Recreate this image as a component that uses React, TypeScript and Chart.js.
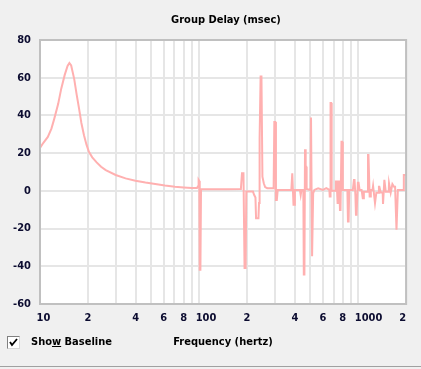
import React, { useEffect, useRef } from 'react';
import { Chart, registerables } from 'chart.js';

Chart.register(...registerables);

const chartTitle = 'Group Delay (msec)';
const xAxisTitle = 'Frequency (hertz)';

const frequencyHz = [
  10, 10.5, 11.2, 11.8, 12.3, 13.0, 13.6, 14.3, 14.9, 15.3, 15.7, 16.4, 17.0, 17.6, 18.2, 18.9, 19.6, 20.3, 21.3, 22.7, 24.2, 25.9, 29.9, 34.5, 39.8, 46, 53, 61, 70.5, 80, 90, 97,
  98.5, 99.3, 100.3, 100.9, 101.9, 102.8, 150,
  183, 186, 190, 193, 196, 198, 218, 222, 226, 228, 236, 238, 240, 243.5, 246.5, 250, 255, 260, 268,
  294, 297, 301, 304, 308, 312,
  380, 385, 389, 392, 396, 400,
  430, 435, 440, 452, 455, 459, 463, 466, 469, 471, 474, 495, 502, 505, 509, 513, 517, 521, 530, 560, 600, 630,
  659, 662, 666, 670, 676, 681, 718, 724, 732, 742, 747, 752, 758, 768, 774, 785, 792, 800, 855,
  862, 870, 878, 925,
  940, 948, 960, 968, 976, 995, 1005, 1020, 1050,
  1068, 1076, 1085, 1140, 1152, 1160, 1180, 1188, 1200, 1230, 1240, 1248, 1275, 1283, 1300, 1345, 1350, 1358, 1385, 1425,
  1432, 1440, 1460, 1468, 1490, 1555, 1562, 1570, 1600, 1640, 1650, 1680, 1705, 1740, 1750, 1775, 1925, 1935, 2000,
];

const groupDelayMs = [
  22.8, 25.5, 28.6, 33, 38.3, 46, 54.2, 61.5, 66.3, 67.8, 66.5, 59.4, 51, 43.6, 36, 29.5, 24.5, 20.7, 17.8, 15.1, 12.8, 11.0, 8.4, 6.6, 5.4, 4.4, 3.6, 2.8, 2.2, 1.8, 1.5, 1.5,
  2.5, 5.8, 5.2, -41.8, -41.8, 0.8, 0.8,
  1.0, 9.3, 9.3, -40.9, -40.9, -0.4, -0.4, -2.2, -3.5, -14.5, -14.5, -6.4, 27.8, 60.7, 60.7, 7.5, 4, 2, 1.4,
  1.4, 36.5, 36.5, -4.8, -4.8, 0.5,
  0.5, 9.3, 9.3, -7.4, -7.4, 0.5,
  0.5, -2.2, 0.5, 0.5, -44.4, -44.4, 22, 22, 12.8, 12.8, 1, 0.5, 1.4, 38.9, 38.9, -34.7, -34.7, -1.3, 0.5, 1.4, 0.5, 1.4,
  0.5, -3, -3, 46.6, 46.6, 0.1, 0.1, 4.9, 4.9, -6.5, -6.5, 4.9, 4.9, -10.1, -10.1, 26, 26, 0.5, 0.5,
  -16.3, -16.3, 0.5, 0.5,
  5.8, 5.8, -2.2, -12.7, -12.7, 4.3, 4.3, 0.5, 0.5,
  -3.9, -3.9, -0.5, -0.5, 19, 19, -3, -3, 0.5, 0.5, 2.6, 2.6, -6.5, -6.5, -1, -1, 2.2, 2.2, -0.9, -0.9,
  -6.9, -6.9, 5.8, 5.8, -0.5, -0.5, 4, 4, -0.9, 3.6, 3.6, 2.2, 2.2, -20.6, -20.6, 0.5, 0.5, 8.4, 8.4,
];

const xTickValues = [10, 20, 30, 40, 50, 60, 70, 80, 90, 100, 200, 300, 400, 500, 600, 700, 800, 900, 1000, 2000];
const xTickLabels = ['  10', '2', '', '4', '', '6', '', '8', '', '    100', '2', '', '4', '', '6', '', '8', '', '      1000', '2  '];

const yMin = -60;
const yMax = 80;
const yStep = 20;

const FONT_FAMILY = "'DejaVu Sans Condensed', 'DejaVu Sans', sans-serif";
const TICK_COLOR = '#0c0c30';

export default function App() {
  const canvasRef = useRef<HTMLCanvasElement>(null);

  useEffect(() => {
    const canvas = canvasRef.current;
    if (!canvas) return;
    const font = { family: FONT_FAMILY, size: 11, weight: 'bold' as const };

    const framePlugin = {
      id: 'plotFrame',
      beforeDraw(chart: any) {
        const { ctx, chartArea: a } = chart;
        ctx.save();
        ctx.fillStyle = '#ffffff';
        ctx.fillRect(a.left, a.top, a.right - a.left, a.bottom - a.top);
        ctx.restore();
      },
      afterDraw(chart: any) {
        const { ctx, chartArea: a } = chart;
        ctx.save();
        ctx.strokeStyle = '#c0c0c0';
        ctx.lineWidth = 2;
        ctx.strokeRect(a.left, a.top, a.right - a.left, a.bottom - a.top);
        ctx.restore();
      },
    };

    const chart = new Chart(canvas, {
      type: 'line',
      data: {
        datasets: [
          {
            data: frequencyHz.map((f, i) => ({ x: f, y: groupDelayMs[i] })),
            borderColor: '#ffb0b0',
            borderWidth: 2,
            pointRadius: 0,
            tension: 0,
            fill: false,
          },
        ],
      },
      options: {
        responsive: false,
        animation: false,
        events: [],
        layout: { padding: { left: 0, right: 11, top: 40, bottom: 0 } },
        plugins: {
          legend: { display: false },
          tooltip: { enabled: false },
          title: { display: false },
        },
        scales: {
          x: {
            type: 'logarithmic',
            min: 10,
            max: 2000,
            afterBuildTicks: (scale: any) => {
              scale.ticks = xTickValues.map((v) => ({ value: v }));
            },
            afterFit: (scale: any) => {
              scale.height = 65;
            },
            grid: { color: '#e6e6e6', lineWidth: 2, drawTicks: false },
            border: { display: false },
            ticks: {
              autoSkip: false,
              maxRotation: 0,
              minRotation: 0,
              padding: 8,
              color: TICK_COLOR,
              font,
              callback: (value: any) => {
                const i = xTickValues.indexOf(Number(value));
                return i >= 0 ? xTickLabels[i] : '';
              },
            },
            title: {
              display: true,
              text: xAxisTitle,
              color: '#000000',
              font,
              padding: { top: 0, bottom: 20 },
            },
          },
          y: {
            min: yMin,
            max: yMax,
            afterFit: (scale: any) => {
              scale.width = 40;
            },
            grid: { color: '#e6e6e6', lineWidth: 2, drawTicks: false },
            border: { display: false },
            ticks: {
              stepSize: yStep,
              padding: 9,
              color: TICK_COLOR,
              font,
            },
          },
        },
      },
      plugins: [framePlugin],
    } as any);

    return () => chart.destroy();
  }, []);

  return (
    <div
      style={{
        position: 'fixed',
        left: 0,
        top: 0,
        width: 421,
        height: 369,
        background: '#f0f0f0',
        overflow: 'hidden',
        fontFamily: FONT_FAMILY,
      }}
    >
      <canvas ref={canvasRef} width={421} height={369} style={{ position: 'absolute', left: 0, top: 0, width: 421, height: 369 }} />
      <div
        style={{
          position: 'absolute',
          left: 126,
          top: 13,
          width: 200,
          textAlign: 'center',
          fontSize: 11,
          lineHeight: '13px',
          fontWeight: 'bold',
          color: '#000',
          whiteSpace: 'nowrap',
        }}
      >
        {chartTitle}
      </div>
      <div
        style={{
          position: 'absolute',
          left: 7,
          top: 336,
          width: 13,
          height: 13,
          boxSizing: 'border-box',
          background: '#ffffff',
          borderTop: '1px solid #808080',
          borderLeft: '1px solid #808080',
          borderRight: '1px solid #d8d8d8',
          borderBottom: '1px solid #d8d8d8',
        }}
      >
        <svg width={11} height={11} style={{ position: 'absolute', left: 0, top: 0 }}>
          <polyline points="2,5 4,8 9,2" fill="none" stroke="#000" strokeWidth={1.8} />
        </svg>
      </div>
      <div
        style={{
          position: 'absolute',
          left: 31,
          top: 335,
          fontSize: 11,
          lineHeight: '13px',
          fontWeight: 'bold',
          color: '#000',
          whiteSpace: 'nowrap',
        }}
      >
        Sho<u>w</u> Baseline
      </div>
      <div style={{ position: 'absolute', left: 0, top: 366, width: 421, height: 1, background: '#a0a0a0' }} />
    </div>
  );
}
